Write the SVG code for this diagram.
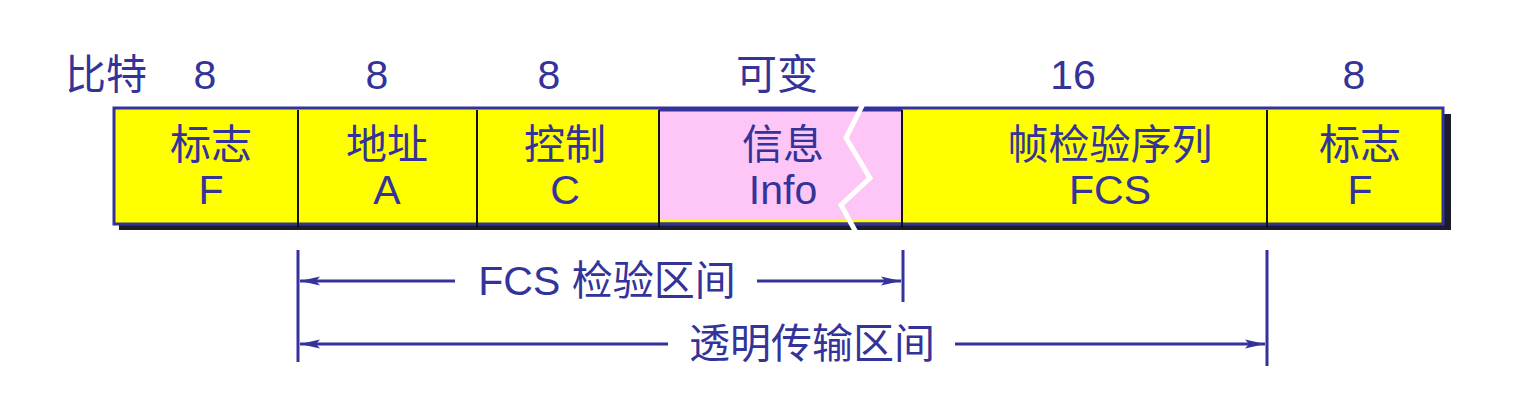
<svg xmlns="http://www.w3.org/2000/svg" width="1530" height="418" viewBox="0 0 1530 418">
<defs>
<style>
text{font-family:"Liberation Sans","Noto Sans CJK SC",sans-serif;font-size:41px;fill:#33339a;text-anchor:middle}
.div{stroke:#111;stroke-width:2}
.ln{stroke:#33339a;stroke-width:3;fill:none}
</style>
<marker id="ah" viewBox="0 0 20 10" refX="20" refY="5" markerWidth="20" markerHeight="10" markerUnits="userSpaceOnUse" orient="auto-start-reverse">
<path d="M0,0.5 L20,5 L0,9.5 L4,5 Z" fill="#33339a"/>
</marker>
</defs>
<rect width="1530" height="418" fill="#fff"/>
<g id="header">
<text x="106" y="89">比特</text>
<text x="205" y="89">8</text>
<text x="377" y="89">8</text>
<text x="549" y="89">8</text>
<text x="777" y="89">可变</text>
<text x="1073" y="89">16</text>
<text x="1354" y="89">8</text>
</g>
<g id="frame">
<rect x="119" y="114" width="1332" height="116" fill="#1c1c2c"/>
<rect x="114" y="108" width="1329" height="116" fill="#ffff00" stroke="#33339a" stroke-width="3"/>
<rect x="660" y="110" width="242" height="112" fill="#fdc6f6"/>
<line x1="659" y1="110" x2="902" y2="110" stroke="#33339a" stroke-width="3"/>
<line x1="659" y1="221" x2="902" y2="221" stroke="#ffff00" stroke-width="2"/>
<line x1="659" y1="224" x2="902" y2="224" stroke="#33339a" stroke-width="3"/>
</g>
<g id="f1"><line class="div" x1="298" y1="110" x2="298" y2="228"/><text x="211" y="159">标志</text><text x="211" y="204">F</text></g>
<g id="a"><line class="div" x1="477" y1="110" x2="477" y2="228"/><text x="387" y="159">地址</text><text x="387" y="204">A</text></g>
<g id="c"><line class="div" x1="659" y1="110" x2="659" y2="228"/><text x="565" y="159">控制</text><text x="565" y="204">C</text></g>
<g id="info"><text x="783" y="159">信息</text><text x="783" y="204">Info</text>
<polyline points="863,104 846,138 870,178 841,205 858,236" fill="none" stroke="#fff" stroke-width="5"/></g>
<g id="fcs"><line class="div" x1="902" y1="110" x2="902" y2="228"/><text x="1110" y="159">帧检验序列</text><text x="1110" y="204">FCS</text></g>
<g id="f2"><line class="div" x1="1267" y1="110" x2="1267" y2="228"/><text x="1360" y="159">标志</text><text x="1360" y="204">F</text></g>
<g id="connectors">
<line class="ln" x1="298" y1="250" x2="298" y2="362"/>
<line class="ln" x1="903" y1="250" x2="903" y2="302"/>
<line class="ln" x1="1267" y1="250" x2="1267" y2="366"/>
<line class="ln" x1="455" y1="281" x2="300" y2="281" marker-end="url(#ah)"/>
<line class="ln" x1="757" y1="281" x2="901" y2="281" marker-end="url(#ah)"/>
<line class="ln" x1="668" y1="344" x2="300" y2="344" marker-end="url(#ah)"/>
<line class="ln" x1="955" y1="344" x2="1265" y2="344" marker-end="url(#ah)"/>
<text x="607" y="295">FCS 检验区间</text>
<text x="812" y="358">透明传输区间</text>
</g>
</svg>
